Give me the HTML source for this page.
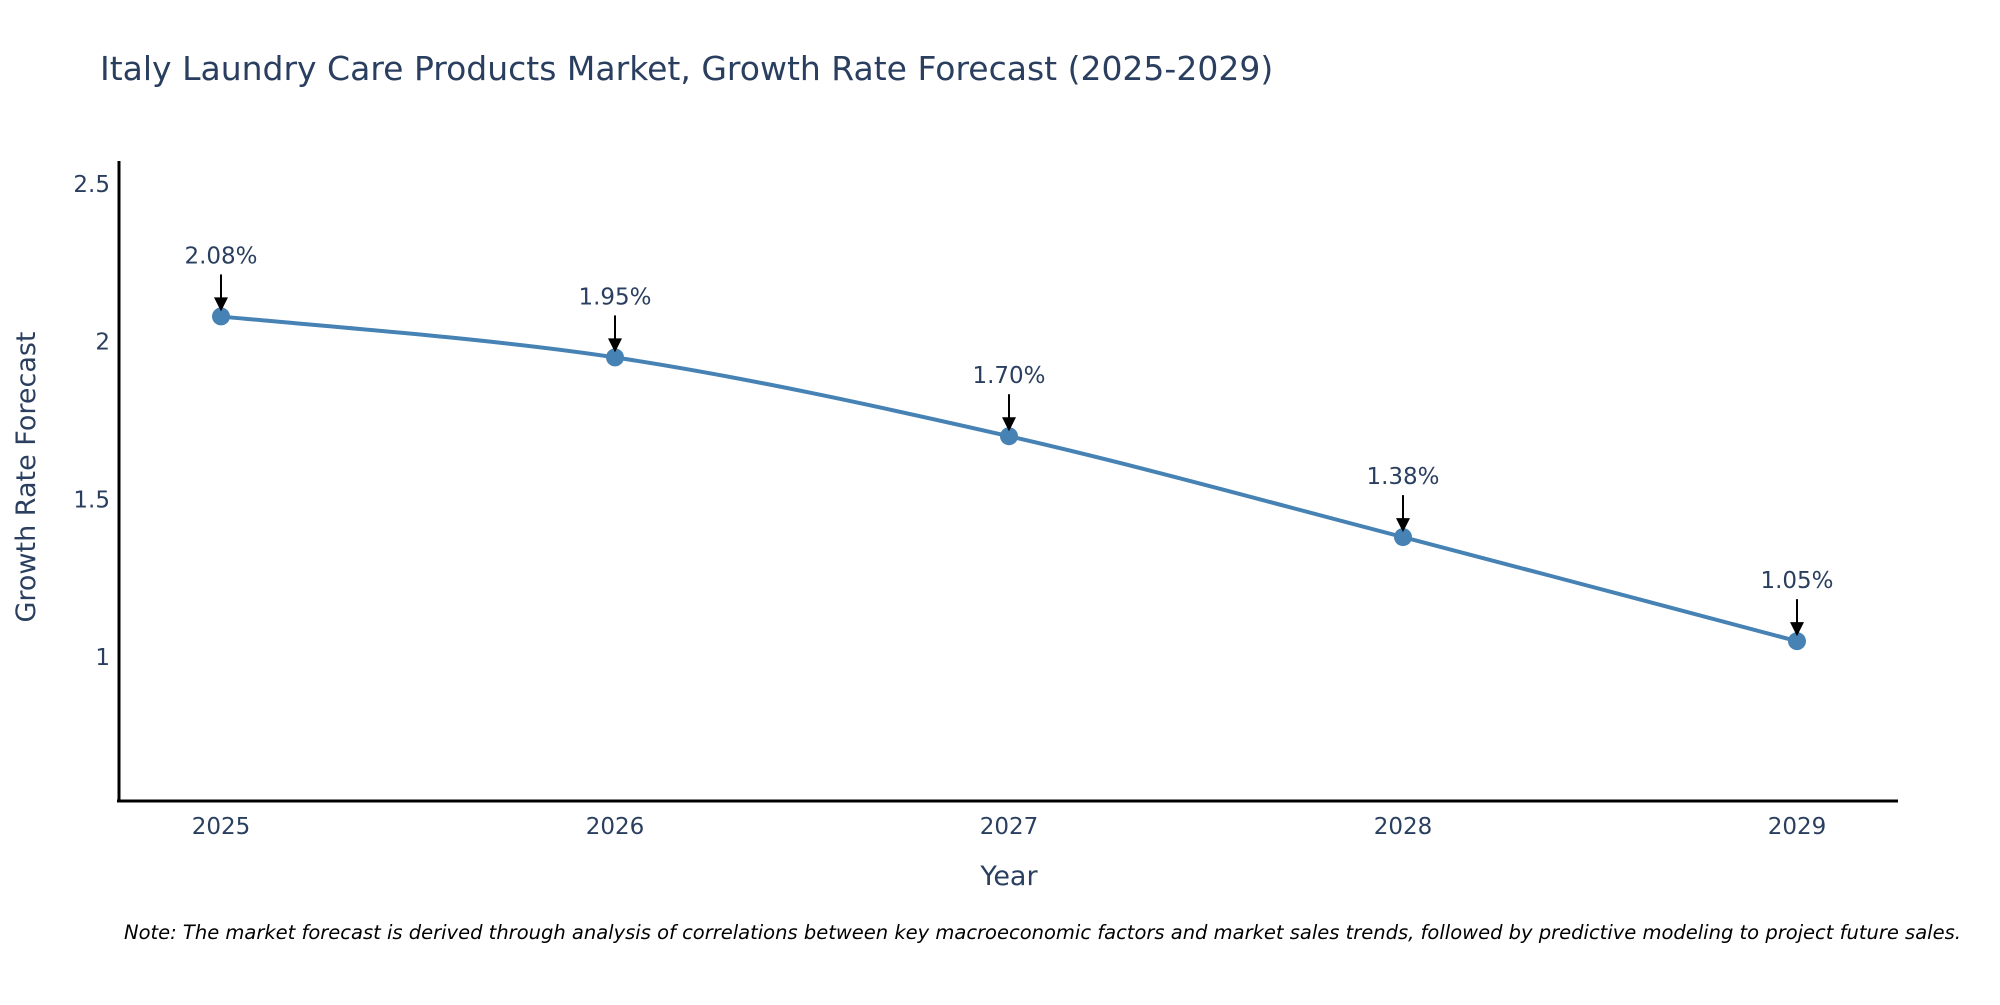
<!DOCTYPE html>
<html><head><meta charset="utf-8"><style>
body{margin:0;background:#fff;}
svg text{font-family:"DejaVu Sans","Liberation Sans",sans-serif;}
</style></head><body>
<svg id="chart" width="2000" height="1000" xmlns="http://www.w3.org/2000/svg">
<rect width="2000" height="1000" fill="#fff"/>
<text x="100" y="80" font-size="33" fill="#2a3f5f">Italy Laundry Care Products Market, Growth Rate Forecast (2025-2029)</text>
<g id="yticks"></g><g id="xticks"></g>
<line x1="119" y1="161" x2="119" y2="802" stroke="#000" stroke-width="3"/>
<line x1="117" y1="801" x2="1898" y2="801" stroke="#000" stroke-width="3"/>
<text transform="translate(35,477) rotate(-90)" text-anchor="middle" font-size="27" fill="#2a3f5f">Growth Rate Forecast</text>
<text x="1009" y="885" text-anchor="middle" font-size="27" fill="#2a3f5f">Year</text>
<g id="series"></g>
<text x="124" y="939" font-size="19.5" font-style="italic" fill="#000">Note: The market forecast is derived through analysis of correlations between key macroeconomic factors and market sales trends, followed by predictive modeling to project future sales.</text>
</svg>
<script>
const years = [2025, 2026, 2027, 2028, 2029];
const values = [2.08, 1.95, 1.70, 1.38, 1.05];
const valueLabels = ["2.08%", "1.95%", "1.70%", "1.38%", "1.05%"];
const yTicks = [1, 1.5, 2, 2.5];
const yTickLabels = ["1", "1.5", "2", "2.5"];

const NS = "http://www.w3.org/2000/svg";
const yMin = 0.543, yMax = 2.573, pTop = 161, pBot = 801;
const xScale = yr => 221 + (yr - 2025) * 394;
const yScale = v => pBot - (v - yMin) / (yMax - yMin) * (pBot - pTop);
function mk(tag, attrs, parent){const e=document.createElementNS(NS,tag);for(const k in attrs)e.setAttribute(k,attrs[k]);parent.appendChild(e);return e;}

const yt = document.getElementById('yticks');
yTicks.forEach((t,i)=>{
  const el = mk('text',{x:110,y:yScale(t)+8,'text-anchor':'end','font-size':23,fill:'#2a3f5f'},yt);
  
  
  el.textContent = yTickLabels[i];
});
const xt = document.getElementById('xticks');
years.forEach(yr=>{
  const el = mk('text',{x:xScale(yr),y:834,'text-anchor':'middle','font-size':23,fill:'#2a3f5f'},xt);
  
  
  el.textContent = yr;
});

const s = document.getElementById('series');
const pts = years.map((yr,i)=>[xScale(yr), yScale(values[i])]);
let d = `M${pts[0][0]},${pts[0][1]}`;
for(let i=0;i<pts.length-1;i++){
  const p0=pts[Math.max(i-1,0)],p1=pts[i],p2=pts[i+1],p3=pts[Math.min(i+2,pts.length-1)];
  const c1=[p1[0]+(p2[0]-p0[0])/6, p1[1]+(p2[1]-p0[1])/6];
  const c2=[p2[0]-(p3[0]-p1[0])/6, p2[1]-(p3[1]-p1[1])/6];
  d += ` C${c1[0]},${c1[1]} ${c2[0]},${c2[1]} ${p2[0]},${p2[1]}`;
}
const line = mk('path',{d:d,fill:'none',stroke:'#4682b4','stroke-width':4},s);


pts.forEach((p,i)=>{
  const c = mk('circle',{cx:p[0],cy:p[1],r:9,fill:'#4682b4'},s);
  
  
  const a = mk('line',{x1:p[0],y1:p[1]-42,x2:p[0],y2:p[1]-18,stroke:'#000','stroke-width':2},s);
  
  
  const h = mk('polygon',{points:`${p[0]-7},${p[1]-19} ${p[0]+7},${p[1]-19} ${p[0]},${p[1]-5}`,fill:'#000'},s);
  
  
  const t = mk('text',{x:p[0],y:p[1]-53,'text-anchor':'middle','font-size':23,fill:'#2a3f5f'},s);
  
  
  t.textContent = valueLabels[i];
});
</script>
</body></html>
